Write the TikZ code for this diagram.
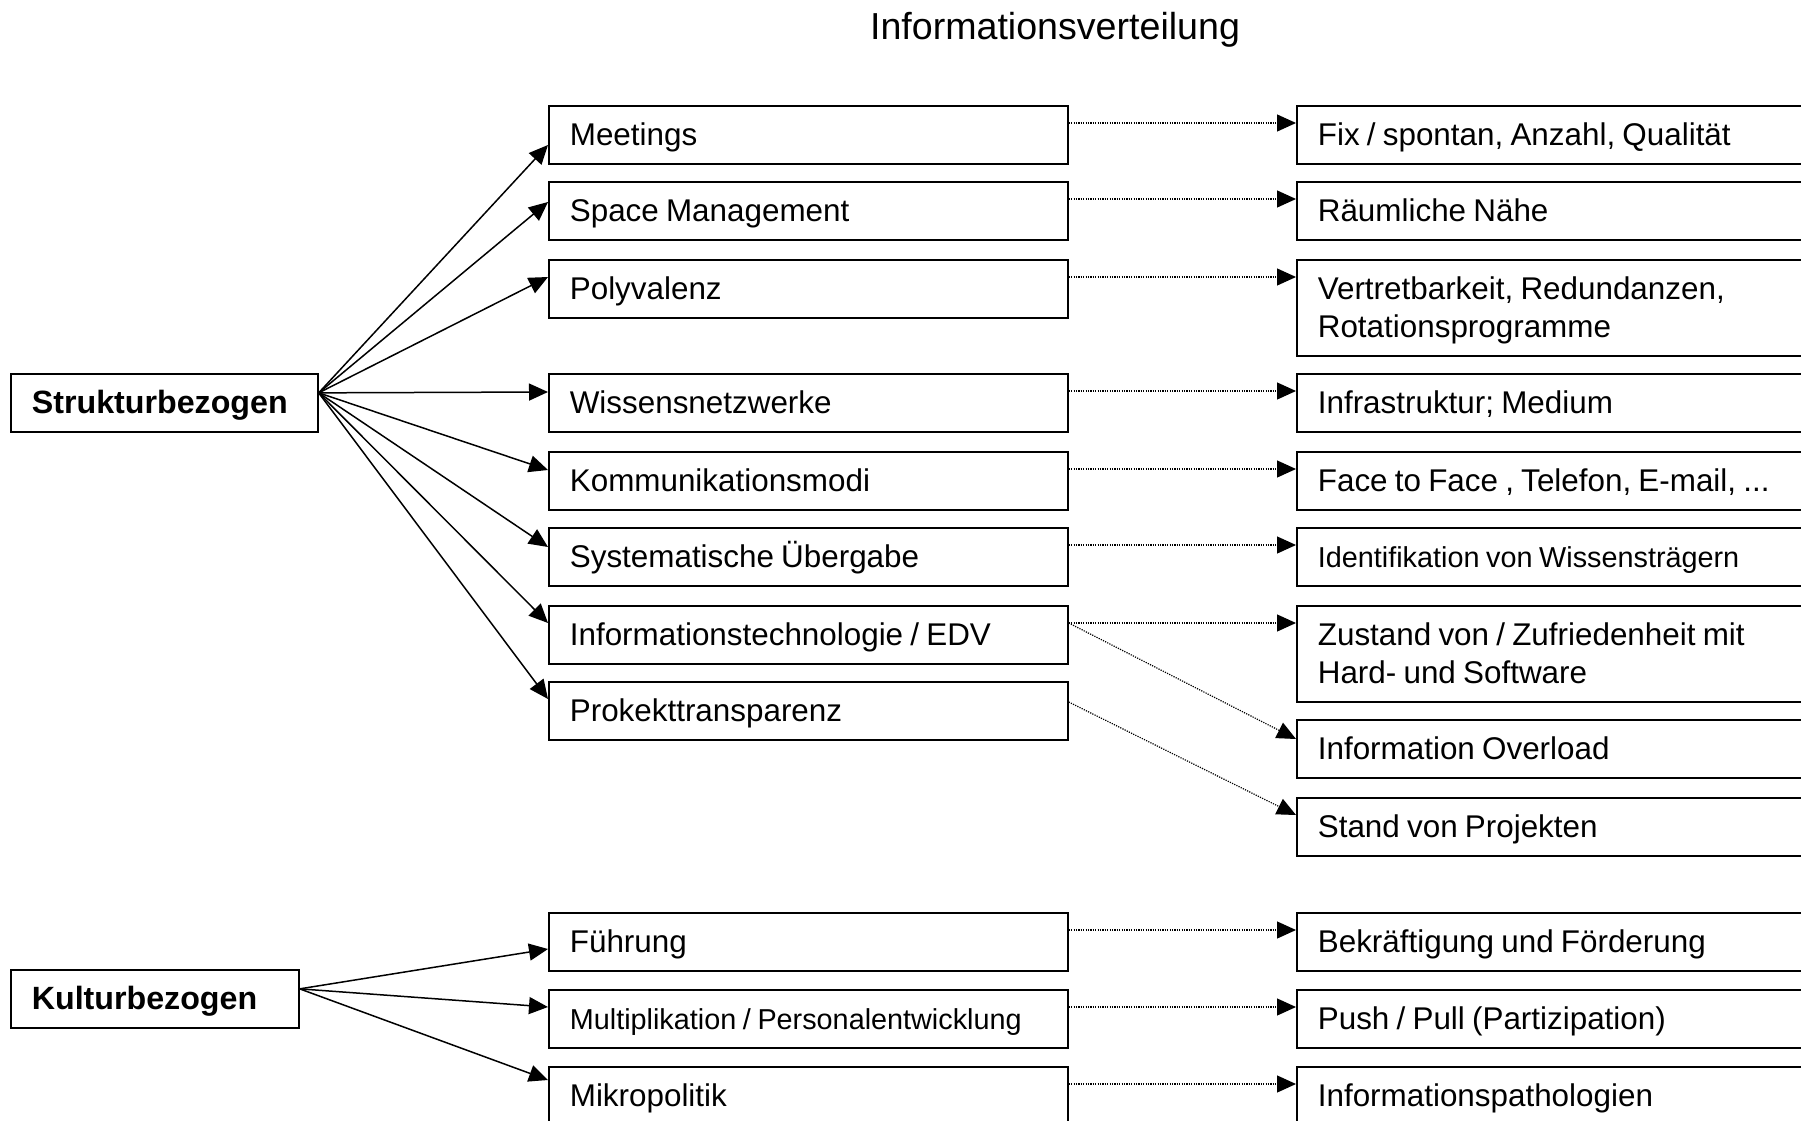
\documentclass[tikz,border=0pt]{standalone}
\usepackage{fontspec}
\setmainfont{Liberation Sans}
\usetikzlibrary{arrows.meta}

\tikzset{
  box/.style={draw, line width=1.7pt, anchor=north west, minimum height=58pt,
    inner xsep=21pt, inner ysep=0pt, align=left, text height=22pt, text depth=0pt,
    font=\fontsize{31.4}{38}\selectfont,
    % natural Arial-like word spaces instead of the wider ragged-right default
    execute at begin node={\spaceskip=0.23em\relax}},
  twoline/.style={minimum height=96pt, text depth=38pt},
  smalltext/.style={font=\fontsize{28.8}{36}\selectfont},
  leftbox/.style={box, font=\fontsize{32.2}{38}\selectfont\bfseries},
  midbox/.style={box, text width=477pt},
  rightbox/.style={box, text width=492pt},
  tip/.style={-{Triangle[length=19pt,width=17pt]}},
  link/.style={tip, line width=1.5pt},
  hint/.style={tip, line width=1.2pt, dash pattern=on 1.2pt off 1.2pt}
}

\begin{document}
\begin{tikzpicture}[x=1pt, y=-1pt]
\useasboundingbox (0,0) rectangle (1801,1121);
\clip (0,0) rectangle (1801,1121);
\fill[white] (0,0) rectangle (1801,1121);

% heading
\node[anchor=base, font=\fontsize{37.6}{44}\selectfont, inner sep=0] (title) at (1055,40) {Informationsverteilung};

% groups
\node[leftbox, text width=265pt] (sb) at (10,373) {Strukturbezogen};
\node[leftbox, text width=246pt] (kb) at (10,969) {Kulturbezogen};

% measures
\node[midbox] (m1) at (548,105) {Meetings};
\node[midbox] (m2) at (548,181) {Space Management};
\node[midbox] (m3) at (548,259) {Polyvalenz};
\node[midbox] (m4) at (548,373) {Wissensnetzwerke};
\node[midbox] (m5) at (548,451) {Kommunikationsmodi};
\node[midbox] (m6) at (548,527) {Systematische Übergabe};
\node[midbox] (m7) at (548,605) {Informationstechnologie / EDV};
\node[midbox] (m8) at (548,681) {Prokekttransparenz};
\node[midbox] (m9) at (548,912) {Führung};
\node[midbox, smalltext] (m10) at (548,989) {Multiplikation / Personalentwicklung};
\node[midbox] (m11) at (548,1066) {Mikropolitik};

% aspects
\node[rightbox] (r1) at (1296,105) {Fix / spontan, Anzahl, Qualität};
\node[rightbox] (r2) at (1296,181) {Räumliche Nähe};
\node[rightbox, twoline] (r3) at (1296,259) {Vertretbarkeit, Redundanzen,\\Rotationsprogramme};
\node[rightbox] (r4) at (1296,373) {Infrastruktur; Medium};
\node[rightbox] (r5) at (1296,451) {Face to Face , Telefon, E-mail, ...};
\node[rightbox, smalltext] (r6) at (1296,527) {Identifikation von Wissensträgern};
\node[rightbox, twoline] (r7) at (1296,605) {Zustand von / Zufriedenheit mit\\Hard- und Software};
\node[rightbox] (r8) at (1296,719) {Information Overload};
\node[rightbox] (r9) at (1296,797) {Stand von Projekten};
\node[rightbox] (r10) at (1296,912) {Bekräftigung und Förderung};
\node[rightbox] (r11) at (1296,989) {Push / Pull (Partizipation)};
\node[rightbox] (r12) at (1296,1066) {Informationspathologien};

% fan-out from the groups
\coordinate (sbo) at ([yshift=10pt]sb.east);
\coordinate (kbo) at ([yshift=10pt]kb.east);
\draw[link] (sbo) -- ([yshift=-40pt]m1.north west);
\draw[link] (sbo) -- ([yshift=-21pt]m2.north west);
\draw[link] (sbo) -- ([yshift=-18pt]m3.north west);
\draw[link] (sbo) -- ([yshift=-19pt]m4.north west);
\draw[link] (sbo) -- ([yshift=-19pt]m5.north west);
\draw[link] (sbo) -- ([yshift=-20pt]m6.north west);
\draw[link] (sbo) -- ([yshift=-18pt]m7.north west);
\draw[link] (sbo) -- ([yshift=-18pt]m8.north west);
\draw[link] (kbo) -- ([yshift=-37pt]m9.north west);
\draw[link] (kbo) -- ([yshift=-18pt]m10.north west);
\draw[link] (kbo) -- ([yshift=-14pt]m11.north west);

% dotted links to the aspects
\foreach \m/\r in {m1/r1, m2/r2, m3/r3, m4/r4, m5/r5, m6/r6, m7/r7, m9/r10, m10/r11, m11/r12}
  \draw[hint] ([yshift=-18pt]\m.north east) -- ([yshift=-18pt]\r.north west);
\draw[hint] ([yshift=-18pt]m7.north east) -- ([yshift=-20pt]r8.north west);
\draw[hint] ([yshift=-21pt]m8.north east) -- ([yshift=-18pt]r9.north west);
\end{tikzpicture}
\end{document}
